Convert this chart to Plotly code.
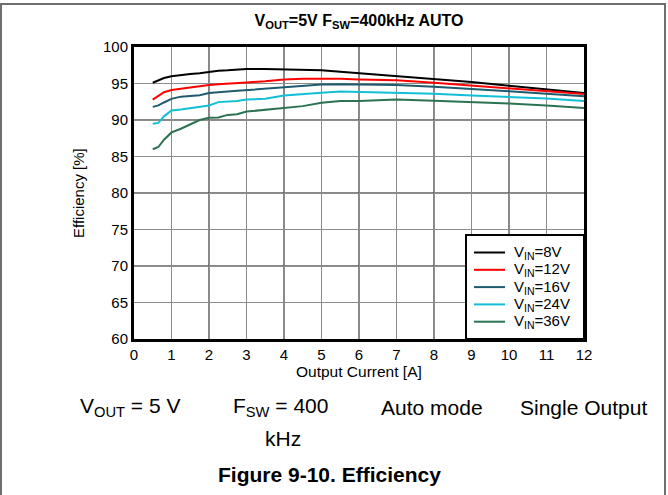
import plotly.graph_objects as go

# Output current [A]
current = [0.5, 0.65, 0.8, 1.0, 1.25, 1.5, 1.75, 2.0, 2.25, 2.5, 2.75, 3.0,
           3.5, 4.0, 4.5, 5.0, 5.5, 6, 7, 8, 9, 10, 11, 12]

# Efficiency [%] per input voltage
eff_8v = [95.1, 95.4, 95.75, 96.0, 96.2, 96.3, 96.4, 96.6, 96.75, 96.8, 96.9, 97.0,
          97.0, 96.95, 96.9, 96.8, 96.6, 96.4, 96.0, 95.65, 95.2, 94.7, 94.2, 93.7]
eff_12v = [92.8, 93.3, 93.8, 94.1, 94.3, 94.45, 94.6, 94.8, 94.9, 94.95, 95.05, 95.15,
           95.3, 95.55, 95.65, 95.7, 95.65, 95.55, 95.45, 95.1, 94.7, 94.3, 93.95, 93.55]
eff_16v = [91.8, 92.0, 92.4, 92.9, 93.2, 93.35, 93.4, 93.7, 93.85, 93.9, 94.0, 94.1,
           94.25, 94.5, 94.7, 94.85, 94.9, 94.9, 94.8, 94.55, 94.3, 93.95, 93.6, 93.25]
eff_24v = [89.5, 89.6, 90.5, 91.3, 91.45, 91.6, 91.85, 92.0, 92.45, 92.5, 92.6, 92.8,
           92.9, 93.35, 93.6, 93.75, 93.9, 93.85, 93.75, 93.6, 93.35, 93.2, 92.95, 92.6]
eff_36v = [86.0, 86.3, 87.3, 88.3, 88.8, 89.45, 90.0, 90.3, 90.35, 90.7, 90.8, 91.15,
           91.4, 91.65, 91.9, 92.35, 92.6, 92.6, 92.8, 92.65, 92.5, 92.25, 92.0, 91.65]

series_names = ["V<sub>IN</sub>=8V", "V<sub>IN</sub>=12V", "V<sub>IN</sub>=16V",
                "V<sub>IN</sub>=24V", "V<sub>IN</sub>=36V"]
series_values = [eff_8v, eff_12v, eff_16v, eff_24v, eff_36v]
series_colors = ["#000000", "#ff0000", "#1f5b6e", "#12bfd6", "#2b7352"]

x_ticks = list(range(0, 13))
y_ticks = list(range(60, 101, 5))

FONT = "Liberation Sans, Arial, sans-serif"

# page layout in pixels
W, H = 668, 495
L, R, T, B = 134, 84, 47, 156
PW, PH = W - L - R, H - T - B


def px(xp):
    return (xp - L) / PW


def py(yp):
    return (H - B - yp) / PH


fig = go.Figure()
for name, vals, col in zip(series_names, series_values, series_colors):
    fig.add_trace(go.Scatter(x=current, y=vals, mode="lines", name=name,
                             line=dict(color=col, width=2), showlegend=False))

shapes = []
annotations = []

# darker gridlines at every second division
for xv in x_ticks[2:-1:2]:
    shapes.append(dict(type="line", xref="x", yref="paper", x0=xv, x1=xv, y0=0, y1=1,
                       line=dict(color="#111111", width=1), layer="between"))
for yv in [70, 80, 90]:
    shapes.append(dict(type="line", xref="paper", yref="y", x0=0, x1=1, y0=yv, y1=yv,
                       line=dict(color="#111111", width=1), layer="between"))

# legend box in the lower right corner of the plot
shapes.append(dict(type="rect", xref="paper", yref="paper",
                   x0=px(466), x1=1, y0=0, y1=py(235),
                   line=dict(color="#000000", width=2), fillcolor="white", layer="above"))
for i, (name, col) in enumerate(zip(series_names, series_colors)):
    yrow = py(252.5 + 17.3 * i)
    shapes.append(dict(type="line", xref="paper", yref="paper",
                       x0=px(474), x1=px(505), y0=yrow, y1=yrow,
                       line=dict(color=col, width=2), layer="above"))
    annotations.append(dict(text=name, x=px(512), y=yrow, xref="paper", yref="paper",
                            showarrow=False, xanchor="left", yanchor="middle",
                            font=dict(family=FONT, size=15, color="#000000")))

# page frame
shapes.append(dict(type="rect", xref="paper", yref="paper",
                   x0=px(1), x1=px(665), y0=py(530), y1=py(4),
                   line=dict(color="#6e6e6e", width=2), fillcolor="rgba(0,0,0,0)"))

# axis titles
annotations.append(dict(text="Output Current [A]", x=px(359), y=py(372),
                        xref="paper", yref="paper", showarrow=False,
                        xanchor="center", yanchor="middle",
                        font=dict(family=FONT, size=15.5, color="#000000")))
annotations.append(dict(text="Efficiency [%]", x=px(78), y=py(193), textangle=-90,
                        xref="paper", yref="paper", showarrow=False,
                        xanchor="center", yanchor="middle",
                        font=dict(family=FONT, size=15, color="#000000")))

# operating conditions and caption
notes = [
    ("V<sub>OUT</sub> = 5 V", 130, 407),
    ("F<sub>SW</sub> = 400", 280, 407),
    ("kHz", 283, 438),
    ("Auto mode", 432, 407),
    ("Single Output", 583, 407),
    ("<b>Figure 9-10. Efficiency</b>", 329, 474),
]
for text, xp, yp in notes:
    annotations.append(dict(text=text, x=px(xp), y=py(yp), xref="paper", yref="paper",
                            showarrow=False, xanchor="center", yanchor="middle",
                            font=dict(family=FONT, size=21, color="#000000")))

fig.update_layout(
    width=W, height=H,
    margin=dict(l=L, r=R, t=T, b=B),
    paper_bgcolor="white", plot_bgcolor="white",
    font=dict(family=FONT, color="#000000", size=15),
    title=dict(text="<b>V<sub>OUT</sub>=5V F<sub>SW</sub>=400kHz AUTO</b>",
               xref="container", x=359 / W, xanchor="center",
               yref="container", y=1 - 20 / H, yanchor="middle",
               font=dict(family=FONT, size=16, color="#000000")),
    xaxis=dict(range=[0, 12], tickvals=x_ticks, showgrid=True, gridcolor="#8c8c8c",
               gridwidth=1, showline=True, linecolor="#000000", linewidth=3, mirror=True,
               ticks="", zeroline=False, tickfont=dict(size=15)),
    yaxis=dict(range=[60, 100], tickvals=y_ticks, showgrid=True, gridcolor="#8c8c8c",
               gridwidth=1, showline=True, linecolor="#000000", linewidth=3, mirror=True,
               ticks="", zeroline=False, tickfont=dict(size=15)),
    shapes=shapes,
    annotations=annotations,
    showlegend=False,
)

fig.write_html("out.html")
